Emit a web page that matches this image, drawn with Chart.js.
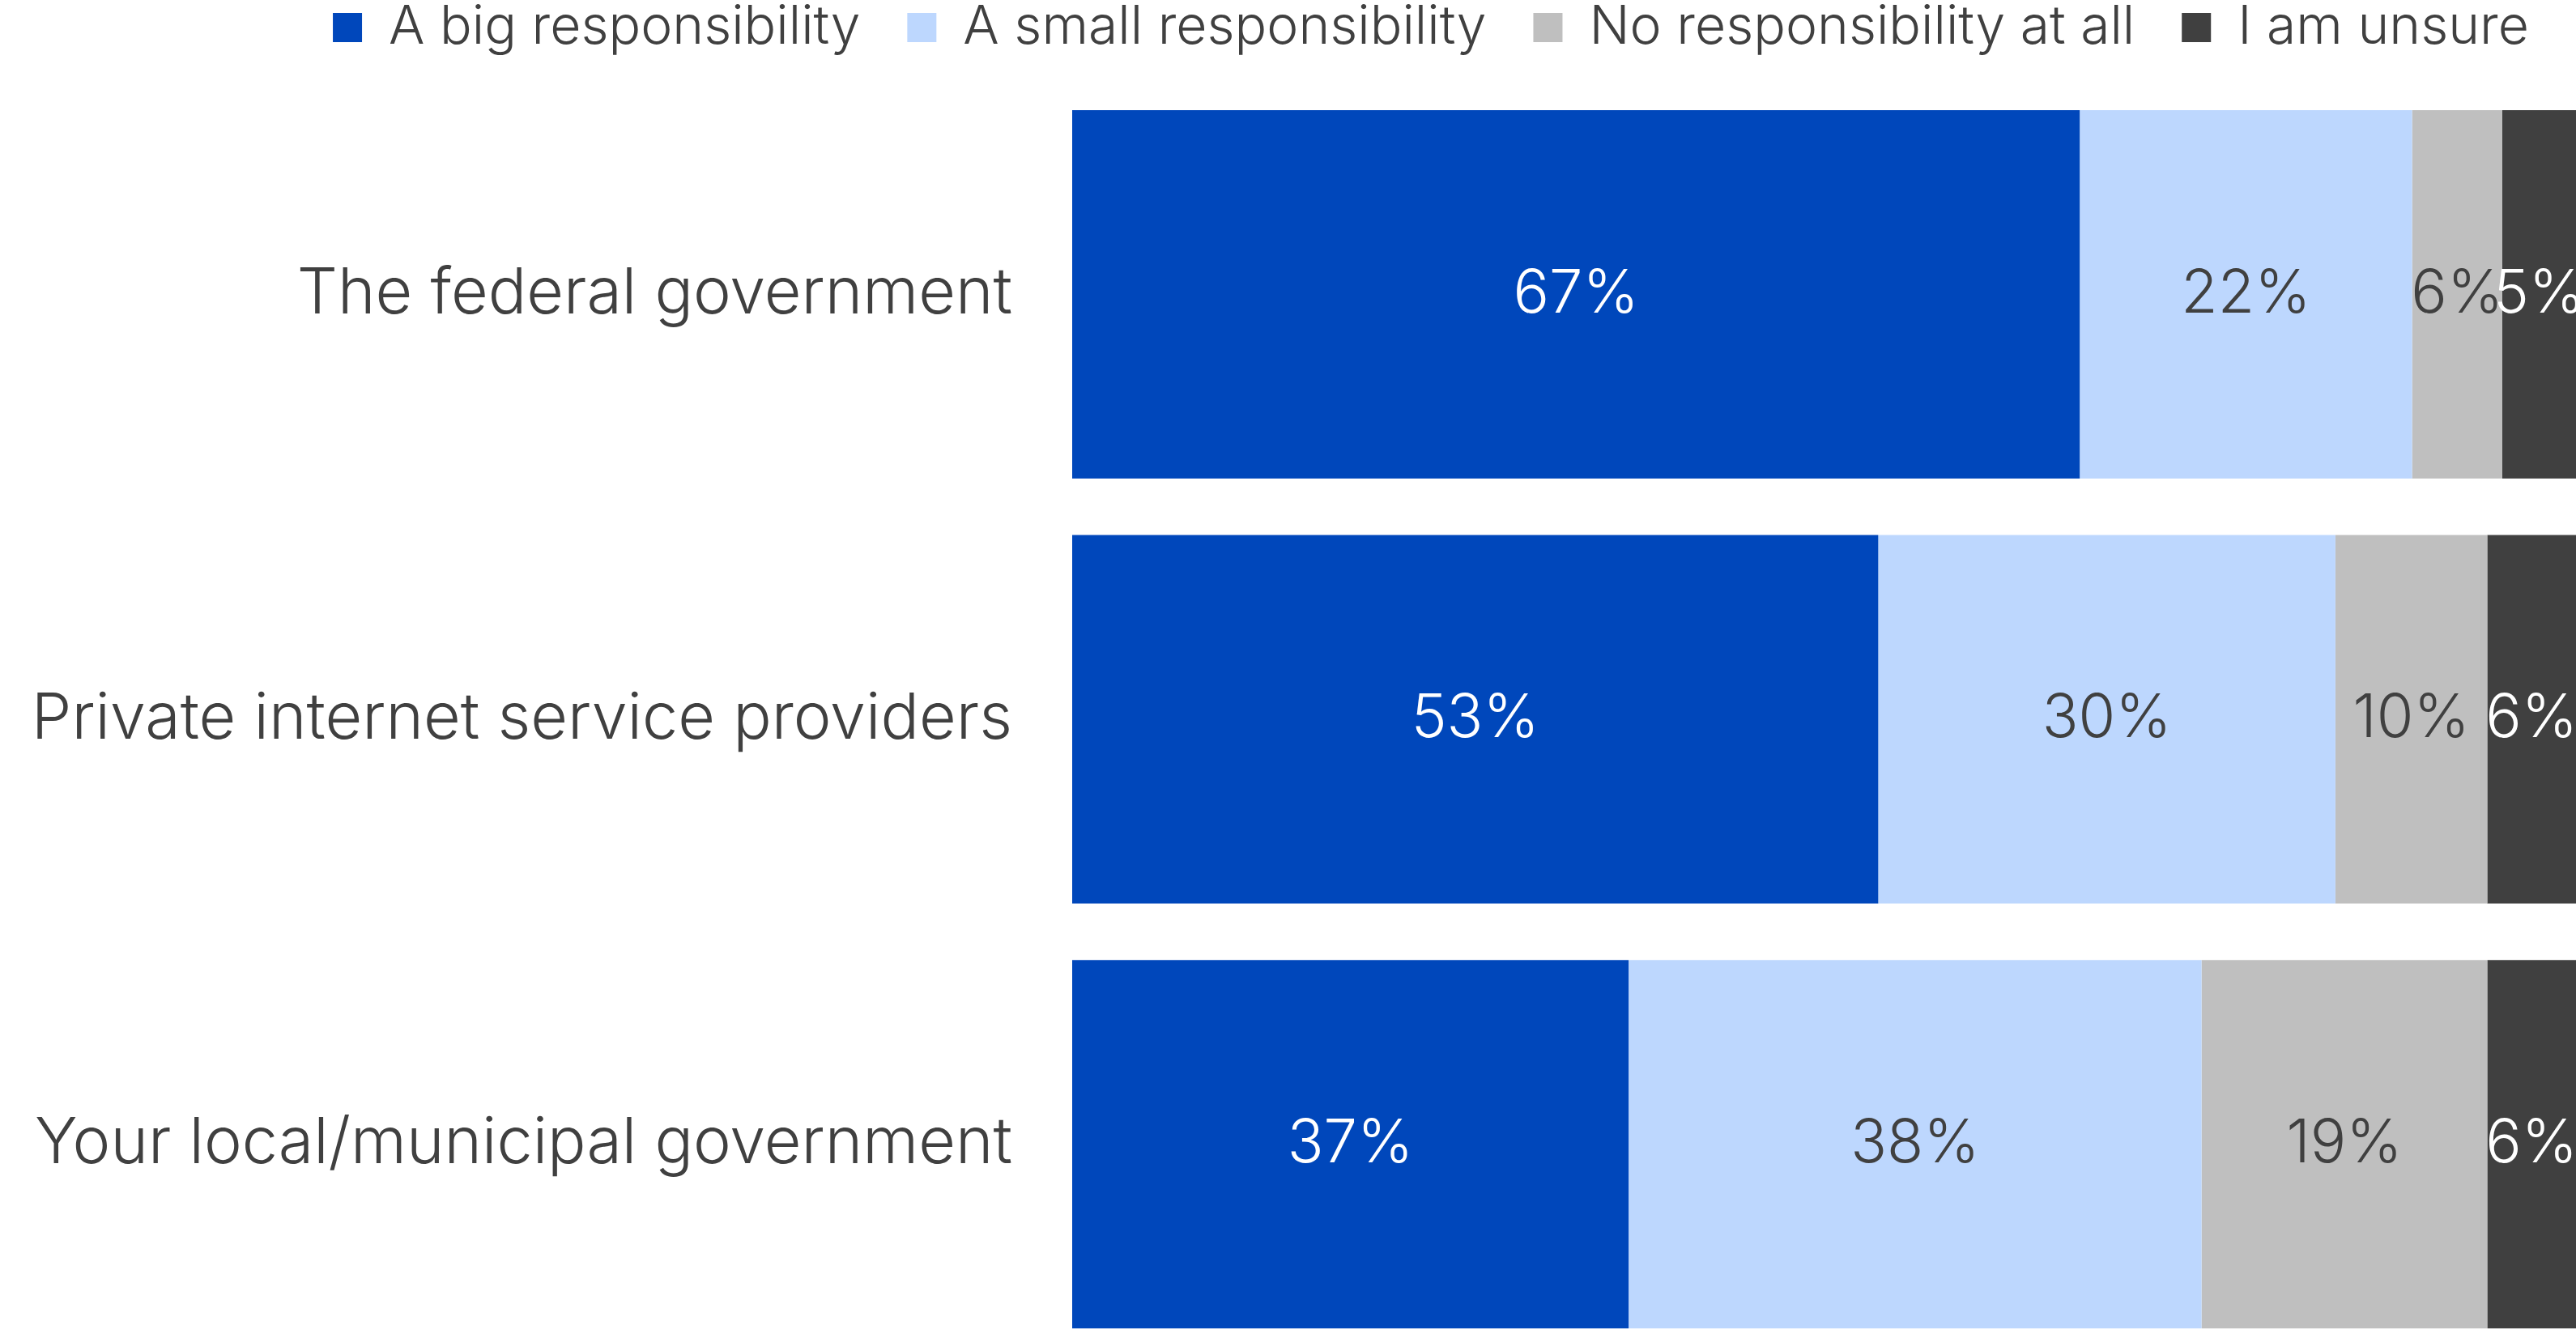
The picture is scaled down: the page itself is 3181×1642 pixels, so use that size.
<!DOCTYPE html>
<html>
<head>
<meta charset="utf-8">
<script src="https://cdn.jsdelivr.net/npm/chart.js@4/dist/chart.umd.min.js"></script>
<style>
    html, body { margin: 0; padding: 0; background: #ffffff; width: 3181px; height: 1642px; overflow: hidden; }
    #chartBox { position: absolute; left: 0; top: -57px; width: 3181px; height: 1732px; }
</style>
</head>
<body>
<div id="chartBox"><canvas id="respChart"></canvas></div>
<script>
//Categories (rows of the chart) and the series names for the legend.
const categories = ['The federal government', 'Private internet service providers', 'Your local/municipal government'];
const seriesNames = ['A big responsibility', 'A small responsibility', 'No responsibility at all', 'I am unsure'];

//Bar values (percent of respondents).
const bigResp = [67.0, 53.6, 37.0];
const smallResp = [22.1, 30.4, 38.1];
const noResp = [6.0, 10.1, 19.0];
const unsure = [4.9, 5.9, 5.9];

//The percentages printed on the bars.
const bigShown = [67, 53, 37];
const smallShown = [22, 30, 38];
const noShown = [6, 10, 19];
const unsureShown = [5, 6, 6];

//Colours for each series and for the text printed on top of it.
const seriesColors = ['#0047BB', '#BDD7FE', '#BFBFBF', '#404040'];
const labelColors = ['#ffffff', '#404040', '#404040', '#ffffff'];

const textGrey = '#404040';
const fontName = 'Inter';

//Small plugin that writes the percentages in the middle of each bar segment.
const barLabels = {
    id: 'barLabels',
    afterDatasetsDraw(chart) {
        const ctx = chart.ctx;
        ctx.save();
        ctx.font = '300 74px ' + fontName;
        ctx.textAlign = 'center';
        ctx.textBaseline = 'middle';
        chart.data.datasets.forEach((ds, i) => {
            const meta = chart.getDatasetMeta(i);
            meta.data.forEach((bar, j) => {
                ctx.fillStyle = labelColors[i];
                ctx.fillText(ds.shown[j] + '%', (bar.x + bar.base) / 2, bar.y);
            });
        });
        ctx.restore();
    }
};

const values = [bigResp, smallResp, noResp, unsure];
const shown = [bigShown, smallShown, noShown, unsureShown];

const ctx = document.getElementById('respChart').getContext('2d');
new Chart(ctx, {
    type: 'bar',
    data: {
        labels: categories,
        datasets: seriesNames.map((name, i) => ({
            label: name,
            data: values[i],
            shown: shown[i],
            backgroundColor: seriesColors[i],
            borderWidth: 0,
            barPercentage: 0.867,
            categoryPercentage: 1
        }))
    },
    options: {
        indexAxis: 'y',
        responsive: true,
        maintainAspectRatio: false,
        animation: false,
        layout: { padding: 0 },
        plugins: {
            legend: {
                position: 'top',
                align: 'end',
                weight: 1000,
                labels: {
                    boxWidth: 36,
                    boxHeight: 36,
                    padding: 58,
                    color: textGrey,
                    font: { family: fontName, size: 66, weight: 300 }
                }
            },
            //Empty subtitle used only as a gap between the legend and the bars.
            subtitle: {
                display: true,
                text: '',
                weight: 500,
                font: { size: 1, lineHeight: 1 },
                padding: { top: 0, bottom: 23 }
            },
            tooltip: { enabled: false }
        },
        scales: {
            x: {
                stacked: true,
                display: false,
                min: 0,
                max: 100
            },
            y: {
                stacked: true,
                grid: { display: false },
                border: { display: false },
                //Fixed axis width so the bars start where they do in the original, and no extra space above/below.
                afterFit(scale) {
                    scale.width = 1324;
                    scale.paddingTop = 0;
                    scale.paddingBottom = 0;
                },
                ticks: {
                    padding: 66,
                    color: textGrey,
                    font: { family: fontName, size: 79, weight: 300 }
                }
            }
        }
    },
    plugins: [barLabels]
});
</script>
</body>
</html>
